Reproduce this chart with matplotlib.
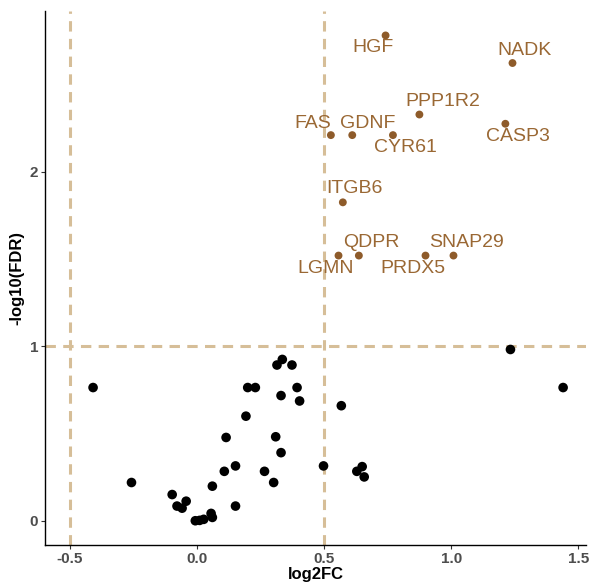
import matplotlib
matplotlib.use("Agg")
import matplotlib.pyplot as plt

plt.rcParams['font.family'] = ['Liberation Sans', 'DejaVu Sans']

# Non-significant genes (black)
ns_fc = [-0.408, -0.257, -0.097, -0.078, -0.058, -0.042, -0.006, 0.011, 0.027, 0.056,
         0.061, 0.061, 0.108, 0.152, 0.152, 0.115, 0.193, 0.200, 0.230, 0.266,
         0.302, 0.310, 0.331, 0.331, 0.315, 0.336, 0.374, 0.394, 0.404, 0.498,
         0.568, 0.629, 0.650, 0.658, 1.233, 1.440]
ns_fdr = [0.763, 0.219, 0.150, 0.084, 0.072, 0.112, 0.000, 0.002, 0.008, 0.042,
          0.019, 0.198, 0.283, 0.314, 0.084, 0.477, 0.599, 0.763, 0.763, 0.283,
          0.219, 0.481, 0.390, 0.717, 0.892, 0.924, 0.892, 0.763, 0.686, 0.314,
          0.659, 0.283, 0.310, 0.251, 0.981, 0.763]

# Significant genes (brown, labelled)
sig_genes = ['HGF', 'NADK', 'PPP1R2', 'CASP3', 'FAS', 'GDNF', 'CYR61', 'ITGB6',
             'LGMN', 'QDPR', 'PRDX5', 'SNAP29']
sig_fc = [0.742, 1.241, 0.875, 1.213, 0.527, 0.611, 0.771, 0.574, 0.557, 0.637, 0.899, 1.009]
sig_fdr = [2.780, 2.622, 2.327, 2.274, 2.209, 2.209, 2.209, 1.824, 1.519, 1.519, 1.519, 1.519]
label_offsets = {'HGF': (-13, -12), 'NADK': (12, 13), 'PPP1R2': (23, 13), 'CASP3': (13, -13),
                 'FAS': (-18, 12), 'GDNF': (15, 12), 'CYR61': (12, -12), 'ITGB6': (12, 14),
                 'LGMN': (-13, -13), 'QDPR': (12, 13), 'PRDX5': (-13, -13), 'SNAP29': (13, 13)}

fc_cut = [-0.5, 0.5]
fdr_cut = 1

fig = plt.figure(figsize=(5.90, 5.86), dpi=100)
ax = fig.add_axes([45/590, 41/586, 541/590, 534/586])

line_col = '#D6BE98'
for v in fc_cut:
    ax.axvline(v, color=line_col, lw=2.2, dashes=(3.4, 2.4), zorder=1)
ax.axhline(fdr_cut, color=line_col, lw=2.2, dashes=(3.4, 2.4), zorder=1)

ax.scatter(ns_fc, ns_fdr, s=48, color='black', edgecolors='none', zorder=3)
brown = '#8E5B2A'
ax.scatter(sig_fc, sig_fdr, s=32, color=brown, edgecolors='none', zorder=3)
for g, x, y in zip(sig_genes, sig_fc, sig_fdr):
    ax.annotate(g, (x, y), xytext=label_offsets[g], textcoords='offset pixels',
                ha='center', va='center', fontsize=14, color='#9A6834', zorder=4)

ax.set_xlim(-0.597, 1.53)
ax.set_ylim(-0.139, 2.92)
ax.set_xticks([-0.5, 0.0, 0.5, 1.0, 1.5])
ax.set_xticklabels(['-0.5', '0.0', '0.5', '1.0', '1.5'])
ax.set_yticks([0, 1, 2])
for s in ['top', 'right']:
    ax.spines[s].set_visible(False)
for s in ['left', 'bottom']:
    ax.spines[s].set_linewidth(1.0)
    ax.spines[s].set_color('black')
ax.tick_params(axis='both', length=3, width=0.8, color='#333333', labelsize=11,
               labelcolor='#4D4D4D', pad=2)
for lab in ax.get_xticklabels() + ax.get_yticklabels():
    lab.set_fontweight('bold')
ax.set_xlabel('log2FC', fontsize=12, fontweight='bold', labelpad=1)
ax.set_ylabel('-log10(FDR)', fontsize=12, fontweight='bold', labelpad=4)

fig.savefig('out.png', dpi=100)
